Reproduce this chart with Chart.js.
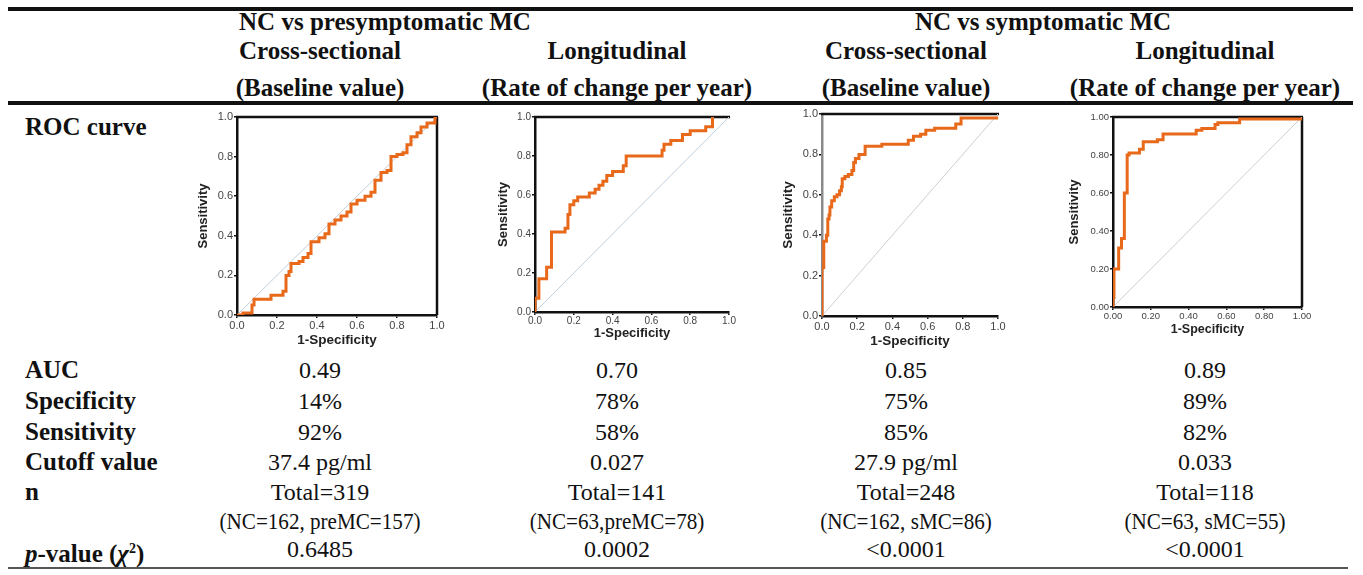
<!DOCTYPE html>
<html>
<head>
<meta charset="utf-8">
<script src="https://cdn.jsdelivr.net/npm/chart.js@4.4.1/dist/chart.umd.min.js"></script>
<style>
  body { margin: 0; background: #fff; width: 1363px; height: 575px; position: relative; overflow: hidden;
         font-family: "Liberation Serif", "Times New Roman", serif; color: #111; }
  .t { position: absolute; white-space: nowrap; line-height: 28px; height: 28px; font-size: 24px; }
  .h { font-size: 25px; }
  .lab { font-size: 25px; }
  .c { transform: translateX(-50%); }
  .cn { transform: translateX(-50%) scaleX(0.88); }
  .b { font-weight: bold; }
  .rule { position: absolute; background: #111; }
  canvas { position: absolute; }
</style>
</head>
<body>
<div class="rule" style="left:8px;top:7px;width:1345px;height:4px"></div>
<div class="rule" style="left:8px;top:101px;width:1345px;height:4px"></div>
<div class="rule" style="left:8px;top:567px;width:1340px;height:2px;background:#555"></div>
<div id="txt"></div>

<script>
// tick labels
const tickValues = [0, 0.2, 0.4, 0.6, 0.8, 1.0];
const tickLabels1 = ['0.0', '0.2', '0.4', '0.6', '0.8', '1.0'];
const tickLabels2 = ['0.00', '0.20', '0.40', '0.60', '0.80', '1.00'];

// ROC curves (1-specificity, sensitivity)
const roc1X = [0, 0.03, 0.075, 0.085, 0.17, 0.23, 0.245, 0.26, 0.27, 0.31, 0.33, 0.355, 0.37, 0.41, 0.44, 0.46, 0.49, 0.52,
               0.55, 0.57, 0.60, 0.64, 0.67, 0.69, 0.72, 0.75, 0.77, 0.80, 0.83, 0.85, 0.87, 0.90, 0.92, 0.95, 0.99, 1.0];
const roc1Y = [0, 0.01, 0.05, 0.08, 0.10, 0.12, 0.20, 0.22, 0.26, 0.27, 0.29, 0.31, 0.37, 0.39, 0.41, 0.46, 0.48, 0.50,
               0.52, 0.56, 0.58, 0.60, 0.62, 0.68, 0.72, 0.73, 0.80, 0.81, 0.82, 0.86, 0.90, 0.92, 0.95, 0.97, 1.0, 1.0];

const roc2X = [0, 0, 0.02, 0.06, 0.085, 0.155, 0.17, 0.18, 0.20, 0.22, 0.28, 0.31, 0.33, 0.35, 0.37, 0.40, 0.455, 0.47,
               0.655, 0.665, 0.70, 0.76, 0.80, 0.88, 0.915];
const roc2Y = [0, 0.07, 0.17, 0.23, 0.41, 0.43, 0.50, 0.55, 0.57, 0.59, 0.61, 0.63, 0.65, 0.67, 0.70, 0.72, 0.75, 0.80,
               0.83, 0.86, 0.88, 0.91, 0.93, 0.95, 1.0];

const roc3X = [0, 0, 0.01, 0.025, 0.033, 0.04, 0.045, 0.055, 0.07, 0.085, 0.10, 0.11, 0.115, 0.13, 0.15, 0.17, 0.18, 0.19,
               0.21, 0.245, 0.34, 0.49, 0.52, 0.56, 0.59, 0.64, 0.76, 0.79, 1.0];
const roc3Y = [0, 0.24, 0.37, 0.40, 0.48, 0.50, 0.54, 0.57, 0.59, 0.60, 0.62, 0.64, 0.68, 0.69, 0.70, 0.72, 0.76, 0.78,
               0.80, 0.84, 0.85, 0.87, 0.89, 0.90, 0.92, 0.93, 0.95, 0.98, 0.98];

const roc4X = [0, 0, 0.005, 0.03, 0.045, 0.06, 0.075, 0.085, 0.14, 0.16, 0.235, 0.265, 0.44, 0.47, 0.54, 0.555, 0.67, 1.0];
const roc4Y = [0, 0.05, 0.20, 0.31, 0.36, 0.60, 0.80, 0.81, 0.83, 0.87, 0.88, 0.91, 0.93, 0.94, 0.96, 0.97, 0.99, 0.99];

const diagX = [0, 1];
const diagY = [0, 1];

// table text
const groupHeads = ['NC vs presymptomatic MC', 'NC vs symptomatic MC'];
const colHeads = ['Cross-sectional', 'Longitudinal', 'Cross-sectional', 'Longitudinal'];
const colSubs = ['(Baseline value)', '(Rate of change per year)', '(Baseline value)', '(Rate of change per year)'];
const rowLabels = ['AUC', 'Specificity', 'Sensitivity', 'Cutoff value', 'n', '', '<i>p</i>-value (<i>χ</i><sup style="font-size:14px">2</sup>)'];
const aucVals = ['0.49', '0.70', '0.85', '0.89'];
const specVals = ['14%', '78%', '75%', '89%'];
const sensVals = ['92%', '58%', '85%', '82%'];
const cutoffVals = ['37.4 pg/ml', '0.027', '27.9 pg/ml', '0.033'];
const nVals = ['Total=319', 'Total=141', 'Total=248', 'Total=118'];
const nSubVals = ['(NC=162, preMC=157)', '(NC=63,preMC=78)', '(NC=162, sMC=86)', '(NC=63, sMC=55)'];
const pVals = ['0.6485', '0.0002', '&lt;0.0001', '&lt;0.0001'];

const colX = [320, 617, 906, 1205];
const rowY = [370, 401, 432, 462, 492, 521, 549];

const txt = document.getElementById('txt');
function put(html, x, cy, cls) {
  const d = document.createElement('div');
  d.className = 't ' + cls;
  d.style.left = x + 'px';
  d.style.top = (cy - 14) + 'px';
  d.innerHTML = html;
  txt.appendChild(d);
}
put(groupHeads[0], 385, 22, 'h b c');
put(groupHeads[1], 1043, 22, 'h b c');
colHeads.forEach((h, i) => put(h, colX[i], 51, 'h b c'));
colSubs.forEach((h, i) => put(h, colX[i], 88, 'h b c'));
put('ROC curve', 25, 127, 'lab b');
rowLabels.forEach((h, i) => { if (h) put(h, 25, rowY[i], 'lab b'); });
[aucVals, specVals, sensVals, cutoffVals, nVals, nSubVals, pVals].forEach((row, r) => {
  row.forEach((v, i) => put(v, colX[i], rowY[r], r === 5 ? 'cn' : 'c'));
});

// charts
const ORANGE = '#E8691A';
const SANS = '"Liberation Sans", Arial, sans-serif';

const framePlugin = {
  id: 'frame',
  beforeDatasetsDraw(chart, args, opts) {
    const { ctx, chartArea: a } = chart;
    ctx.save();
    ctx.strokeStyle = '#111';
    ctx.lineWidth = 2.5;
    ctx.beginPath();
    if (opts.top) { ctx.moveTo(a.left - 1, a.top); ctx.lineTo(a.right + 1, a.top); }
    if (opts.right) { ctx.moveTo(a.right, a.top); ctx.lineTo(a.right, a.bottom); }
    ctx.stroke();
    ctx.restore();
  }
};

const panels = [
  { x: roc1X, y: roc1Y, labels: tickLabels1, area: { l: 237, t: 117, r: 437, b: 315 }, yTitleX: 203, xLabelY: 326, xTitleY: 340,
    tick: 11, yTitle: 13, xTitle: 13.5, frame: { top: true, right: true }, leftColor: '#111', diag: '#c3cfd9' },
  { x: roc2X, y: roc2Y, labels: tickLabels1, area: { l: 535, t: 117, r: 729, b: 312 }, yTitleX: 503, xLabelY: 321, xTitleY: 333,
    tick: 10, yTitle: 13, xTitle: 13, frame: { top: true, right: false }, leftColor: '#111', diag: '#bcd0e0' },
  { x: roc3X, y: roc3Y, labels: tickLabels1, area: { l: 822, t: 114, r: 998, b: 316 }, yTitleX: 788, xLabelY: 327, xTitleY: 341,
    tick: 11, yTitle: 13.5, xTitle: 13.5, frame: { top: true, right: false }, leftColor: '#8a8a8a', diag: '#cfcfcf' },
  { x: roc4X, y: roc4Y, labels: tickLabels2, area: { l: 1113, t: 117, r: 1302, b: 307 }, yTitleX: 1074, xLabelY: 316, xTitleY: 330,
    tick: 9.5, yTitle: 13, xTitle: 12.5, frame: { top: true, right: true }, leftColor: '#111', diag: '#cfcfcf' }
];

panels.forEach(p => {
  const left = p.yTitleX - 12, top = p.area.t - 8, right = p.area.r + 12, bottom = p.xTitleY + 12;
  const cv = document.createElement('canvas');
  cv.width = right - left;
  cv.height = bottom - top;
  cv.style.left = left + 'px';
  cv.style.top = top + 'px';
  cv.style.width = cv.width + 'px';
  cv.style.height = cv.height + 'px';
  document.body.appendChild(cv);

  const tickFont = { size: p.tick, family: SANS };
  const grid = { display: true, drawOnChartArea: false, drawTicks: true, tickLength: 3, color: '#111', lineWidth: 1.5 };
  const xPad = Math.max(0, p.xLabelY - p.area.b - 3 - p.tick * 0.6);

  new Chart(cv, {
    type: 'scatter',
    data: {
      datasets: [
        { data: p.x.map((v, i) => ({ x: v, y: p.y[i] })), showLine: true, stepped: true,
          borderColor: ORANGE, borderWidth: 3, pointRadius: 0, order: 0 },
        { data: diagX.map((v, i) => ({ x: v, y: diagY[i] })), showLine: true,
          borderColor: p.diag, borderWidth: 1, pointRadius: 0, order: 1 }
      ]
    },
    options: {
      responsive: false,
      animation: false,
      events: [],
      layout: { padding: { top: 8, right: 12, left: 0, bottom: 0 } },
      plugins: { legend: { display: false }, tooltip: { enabled: false }, frame: p.frame },
      scales: {
        x: {
          type: 'linear', min: 0, max: 1,
          afterBuildTicks: a => { a.ticks = tickValues.map(v => ({ value: v })); },
          afterFit: s => { s.height = bottom - p.area.b; s.paddingLeft = 0; s.paddingRight = 0; },
          ticks: { callback: (v, i) => p.labels[i], font: tickFont, color: '#444', padding: xPad, maxRotation: 0, autoSkip: false },
          grid: grid,
          border: { display: true, color: '#111', width: 2.5 },
          title: { display: true, text: '1-Specificity', color: '#222',
                   font: { size: p.xTitle, weight: 'bold', family: SANS },
                   padding: { top: 0, bottom: 12 - p.xTitle * 0.6 } }
        },
        y: {
          type: 'linear', min: 0, max: 1,
          afterBuildTicks: a => { a.ticks = tickValues.map(v => ({ value: v })); },
          afterFit: s => { s.width = p.area.l - left; s.paddingTop = 0; s.paddingBottom = 0; },
          ticks: { callback: (v, i) => p.labels[i], font: tickFont, color: '#444', padding: 1, autoSkip: false },
          grid: grid,
          border: { display: true, color: p.leftColor, width: 2.5 },
          title: { display: true, text: 'Sensitivity', color: '#222',
                   font: { size: p.yTitle, weight: 'bold', family: SANS },
                   padding: { top: 12 - p.yTitle * 0.6, bottom: 0 } }
        }
      }
    },
    plugins: [framePlugin]
  });
});
</script>
</body>
</html>
